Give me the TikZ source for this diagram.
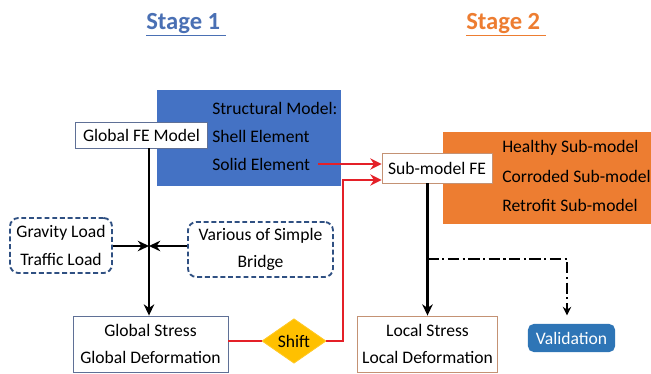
\documentclass[tikz,border=0pt]{standalone}
\usepackage{fontspec}
\setmainfont{Carlito}
\usetikzlibrary{shapes.geometric, arrows.meta, positioning}
\definecolor{SB}{RGB}{68, 114, 196}
\definecolor{TB}{RGB}{74, 112, 180}
\definecolor{SO}{RGB}{237, 125, 49}
\definecolor{DB}{RGB}{47, 80, 130}
\definecolor{GB}{RGB}{95, 112, 150}
\definecolor{LB}{RGB}{196, 146, 116}
\definecolor{VB}{RGB}{46, 117, 182}
\definecolor{YY}{RGB}{255, 192, 0}
\definecolor{RR}{RGB}{228, 32, 40}
\tikzset{
    txt/.style={font=\fontsize{12.5}{19.5}\selectfont},
    title/.style={font=\fontsize{17.5}{21}\selectfont\bfseries, inner sep=0pt},
    block/.style={rectangle, anchor=north west, inner sep=0pt},
    inlabel/.style={txt, anchor=west, inner sep=0pt},
    plainbox/.style={rectangle, draw=GB, line width=0.6pt, fill=white, align=center, txt},
    loadbox/.style={rectangle, rounded corners=6pt, draw=DB, line width=1.3pt, dash pattern=on 3.5pt off 2pt, align=center, txt},
    arrow/.style={line width=1.8pt, -{Stealth[length=8pt, width=7.5pt]}},
    redarrow/.style={draw=RR, line width=1.5pt, -{Stealth[length=8pt, width=8pt]}},
}

\begin{document}
\begin{tikzpicture}[x=0.025cm, y=-0.025cm]
\useasboundingbox (0,0) rectangle (651,374);

% stage headings
\node[title, text=TB] (stage1) at (186,25) {\underline{Stage 1\ }};
\node[title, text=SO] (stage2) at (506,25) {\underline{Stage 2\ }};

% stage 1: global model
\node[block, fill=SB, minimum width=4.6cm, minimum height=2.4cm] (smodel) at (157,90) {};
\node[inlabel] (smhead) at (212,108) {Structural Model:};
\node[inlabel] (shell) at (212,136) {Shell Element};
\node[inlabel] (solid) at (212,164) {Solid Element};
\node[plainbox, minimum width=3.3cm, minimum height=0.65cm] (gfe) at (141.5,135) {Global FE Model};

\node[loadbox, minimum width=2.55cm, minimum height=1.375cm] (loads) at (61,245.5) {Gravity Load\\Traffic Load};
\node[loadbox, minimum width=3.625cm, minimum height=1.375cm] (bridge) at (260.5,249.5) {Various of Simple\\Bridge};
\node[plainbox, minimum width=3.875cm, minimum height=1.4cm] (gstress) at (150.5,344) {Global Stress\\Global Deformation};
\node[diamond, draw=YY!85!white, fill=YY, line width=0.6pt, inner sep=0pt, minimum width=1.6cm, minimum height=1cm, txt] (shift) at (294,341) {Shift};

\coordinate (jn) at (149,246);
\draw[arrow] (gfe.south -| jn) -- (gstress.north -| jn);
\draw[arrow] (loads.east |- jn) -- (jn);
\draw[arrow] (bridge.west |- jn) -- (jn);

% stage 2: sub-models
\node[block, fill=SO, minimum width=5.3cm, minimum height=2.3cm] (subm) at (443,132) {};
\node[inlabel] (healthy) at (502,148) {Healthy Sub-model};
\node[inlabel] (corroded) at (502,176) {Corroded Sub-model};
\node[inlabel] (retrofit) at (502,205) {Retrofit Sub-model};
\node[plainbox, draw=LB, minimum width=2.75cm, minimum height=0.75cm] (sfe) at (437,168) {Sub-model FE};

\node[plainbox, draw=LB, minimum width=3.425cm, minimum height=1.4cm] (lstress) at (427.5,344) {Local Stress\\Local Deformation};
\node[rectangle, rounded corners=4pt, fill=VB, text=white, minimum width=2.175cm, minimum height=0.7cm, txt] (valid) at (571.5,338) {Validation};

% links between the stages
\coordinate (bend) at (343,180);
\draw[redarrow, shorten <=5.5pt] (solid.east) -- (sfe.west |- solid.east);
\draw[RR, line width=1.5pt] (gstress.east |- shift.west) -- (shift.west);
\draw[redarrow] (shift.east) -| (bend) -- (sfe.west |- bend);

\coordinate (vjn) at (427.5,259);
\coordinate (vcorner) at (567,259);
\draw[arrow] (sfe.south -| lstress.north) -- (lstress.north);
\draw[line width=1.3pt, dash pattern=on 8pt off 2.5pt on 1.5pt off 2.5pt, -{Stealth[length=6pt, width=6pt]}, shorten >=6pt]
    (vjn) -- (vcorner) -- (vcorner |- valid.north);

\end{tikzpicture}
\end{document}
